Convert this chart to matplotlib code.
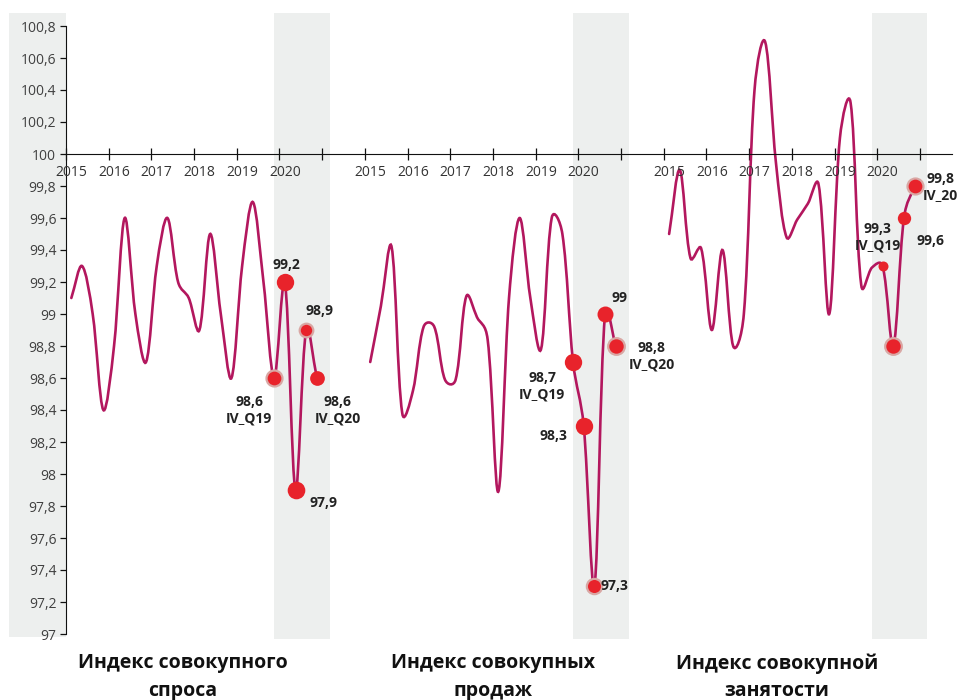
import matplotlib

matplotlib.use("Agg")
import matplotlib.pyplot as plt
import numpy as np
from matplotlib.patches import PathPatch, Rectangle
from matplotlib.path import Path

plt.rcParams["font.family"] = ["Open Sans", "DejaVu Sans"]

# quarterly values 2015Q1..2020Q4 for each index
demand = [99.1, 99.3, 99.0, 98.4, 98.8, 99.6, 99.0, 98.7, 99.3, 99.6, 99.2, 99.1,
          98.9, 99.5, 99.0, 98.6, 99.3, 99.7, 99.2, 98.6, 99.2, 97.9, 98.9, 98.6]
sales = [98.7, 99.05, 99.42, 98.38, 98.52, 98.92, 98.92, 98.59, 98.59, 99.11, 98.98, 98.84,
         97.89, 99.1, 99.6, 99.1, 98.78, 99.6, 99.5, 98.7, 98.3, 97.3, 99.0, 98.8]
employment = [99.5, 99.9, 99.35, 99.41, 98.9, 99.4, 98.8, 99.0, 100.4, 100.7, 99.95, 99.48,
              99.59, 99.69, 99.81, 99.0, 100.1, 100.32, 99.18, 99.29, 99.3, 98.8, 99.6, 99.8]
series = [demand, sales, employment]

titles = ["Индекс совокупного\nспроса", "Индекс совокупных\nпродаж", "Индекс совокупной\nзанятости"]
years = ["2015", "2016", "2017", "2018", "2019", "2020"]

# highlighted points: (series, quarter index, label)
highlights = [
    (0, 19, "98,6\nIV_Q19"), (0, 20, "99,2"), (0, 21, "97,9"), (0, 22, "98,9"), (0, 23, "98,6\nIV_Q20"),
    (1, 19, "98,7\nIV_Q19"), (1, 20, "98,3"), (1, 21, "97,3"), (1, 22, "99"), (1, 23, "98,8\nIV_Q20"),
    (2, 20, "99,3\nIV_Q19"), (2, 21, ""), (2, 22, "99,6"), (2, 23, "99,8\nIV_20"),
]
# marker diameter (pt), halo, label offset (px)
hl_style = [
    (11.5, True, (-25, -32)), (12.5, False, (2, 17)), (12.7, False, (28, -13)),
    (9.8, True, (13, 19)), (10.6, False, (21, -32)),
    (12.5, False, (-31, -24)), (12.5, False, (-30, -10)), (11.0, True, (20, 0)),
    (11.5, False, (14, 16)), (12.0, True, (36, -10)),
    (7.2, False, (-5, 29)), (12.0, True, (0, 0)), (9.6, False, (27, -23)), (11.5, True, (26, -1)),
]

LINE = "#B3175E"
RED = "#E8232B"
BAND = "#EDEFEE"
SEG = 28  # quarters per segment incl. gap
PX_X, PX_Y = 10.68, 160.0  # pixels per quarter / per index point


def qx(s, i):
    return SEG * s + i + 0.5


def smooth_path(xs, ys, alpha=0.5):
    # Excel-like smoothed line: Bezier with (centripetal) chord-weighted tangents
    pts = np.column_stack([xs, ys])
    ext = np.vstack([pts[0], pts, pts[-1]])
    sc = np.array([PX_X, PX_Y])
    verts = [pts[0]]
    codes = [Path.MOVETO]
    for k in range(len(pts) - 1):
        p0, p1, p2, p3 = ext[k], ext[k + 1], ext[k + 2], ext[k + 3]
        d01 = np.hypot(*((p1 - p0) * sc)) ** alpha
        d12 = np.hypot(*((p2 - p1) * sc)) ** alpha
        d23 = np.hypot(*((p3 - p2) * sc)) ** alpha
        c1 = p1 + (p2 - p0) * d12 / (d01 + d12) / 3.0
        c2 = p2 - (p3 - p1) * d12 / (d12 + d23) / 3.0
        verts += [c1, c2, p2]
        codes += [Path.CURVE4] * 3
    return Path(verts, codes)


fig = plt.figure(figsize=(9.61, 7.0), dpi=100)
W, H = 961, 700
ax = fig.add_axes([66 / W, (H - 634) / H, (952 - 66) / W, (634 - 26) / H])
ax.set_facecolor("none")
ax.set_xlim(0, 83)
ax.set_ylim(97, 100.8)

# grey bands
fig.add_artist(Rectangle((9 / W, (H - 637) / H), 57 / W, 624 / H,
                         transform=fig.transFigure, color=BAND, zorder=-5, lw=0))
for s in range(3):
    ax.axvspan(SEG * s + 19.5, SEG * s + 24.7, ymin=-0.009, ymax=1.022,
               color=BAND, lw=0, zorder=0, clip_on=False)

for s, vals in enumerate(series):
    xs = [qx(s, i) for i in range(len(vals))]
    ax.add_patch(PathPatch(smooth_path(xs, vals), fill=False, edgecolor=LINE,
                           lw=1.9, zorder=2, capstyle="round"))

px2pt = 0.72
for (s, i, lab), (ms, halo, (dx, dy)) in zip(highlights, hl_style):
    y = series[s][i]
    ax.plot(qx(s, i), y, "o", ms=ms, color=RED, zorder=3,
            mec="#D9A7A4" if halo else RED, mew=1.6 if halo else 0)
    if lab:
        ax.annotate(lab, (qx(s, i), y), xytext=(dx * px2pt, dy * px2pt),
                    textcoords="offset points", ha="center", va="center",
                    fontsize=10, fontweight="bold", color="#222222", linespacing=1.25)

# axes
for sp in ("top", "right"):
    ax.spines[sp].set_visible(False)
ax.spines["bottom"].set_position(("data", 100))
ax.spines["left"].set_color("#111111")
ax.spines["bottom"].set_color("#111111")
ax.set_xticks(np.arange(0, 81, 4))
ax.tick_params(axis="x", direction="inout", length=8, width=0.9, labelbottom=False, color="#111111")
yt = np.round(np.arange(97, 100.81, 0.2), 1)
ax.set_yticks(yt)
ax.set_yticklabels([("%g" % v).replace(".", ",") for v in yt], fontsize=10, color="#404040")
ax.tick_params(axis="y", direction="out", length=4, width=0.9, pad=3, color="#111111")

for s in range(3):
    for k, yr in enumerate(years):
        ax.annotate(yr, (qx(s, 4 * k), 100), xytext=(0, -19 * px2pt), textcoords="offset points",
                    ha="center", va="center", fontsize=10, color="#333333")

for cx, t in zip([183, 493, 777], titles):
    fig.text(cx / W, (H - 677) / H, t, ha="center", va="center", fontsize=14,
             fontweight="bold", color="#111111", linespacing=1.5)

fig.savefig("out.png", dpi=100, facecolor="white")
